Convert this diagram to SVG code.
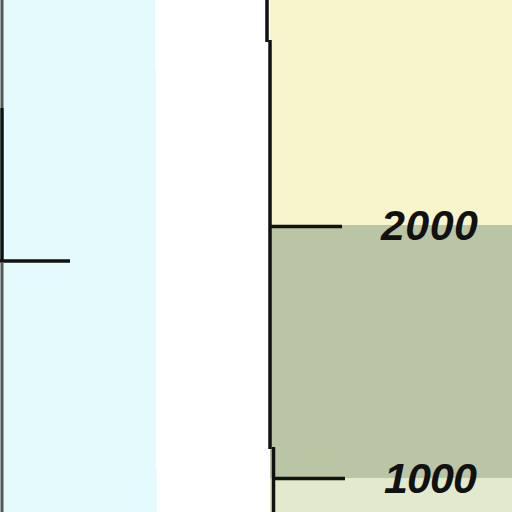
<svg xmlns="http://www.w3.org/2000/svg" width="512" height="512" viewBox="0 0 512 512">
<style>
.ax{stroke:#111;stroke-width:3.5;fill:none}
.axg{stroke:#555;stroke-width:3;fill:none}
.lbl{font-family:"Liberation Sans",Arial,sans-serif;font-style:italic;font-weight:bold;font-size:43px;fill:#111}
</style>
<rect width="512" height="512" fill="#ffffff"/>
<!-- left panel -->
<rect x="0" y="0" width="155" height="512" fill="#e5fafc"/>
<rect x="155" y="70" width="1" height="400" fill="#e5fafc"/>
<rect x="155" y="470" width="2" height="42" fill="#e5fafc"/>
<!-- right panel bands -->
<rect x="270" y="0" width="242" height="225" fill="#f8f4cc"/>
<rect x="270" y="225" width="242" height="253" fill="#bac5a5"/>
<rect x="270" y="478" width="242" height="34" fill="#e2e9cd"/>
<g id="left-axis">
<line class="axg" x1="2" y1="0" x2="2" y2="108"/>
<line class="ax" x1="2" y1="108" x2="2" y2="262"/>
<line class="ax" x1="0" y1="261" x2="70" y2="261"/>
<line class="axg" x1="2" y1="262" x2="2" y2="512"/>
</g>
<g id="right-axis">
<line class="ax" x1="267" y1="0" x2="267" y2="42"/>
<line class="ax" x1="270" y1="40" x2="270" y2="449"/>
<line class="ax" x1="273.5" y1="447" x2="273.5" y2="512"/>
<line class="ax" x1="270" y1="226.5" x2="342" y2="226.5"/>
<line class="ax" x1="272" y1="478.5" x2="345" y2="478.5"/>
</g>
<g id="labels">
<text class="lbl" x="381" y="240" textLength="97">2000</text>
<text class="lbl" x="384" y="493" textLength="93">1000</text>
</g>
</svg>
